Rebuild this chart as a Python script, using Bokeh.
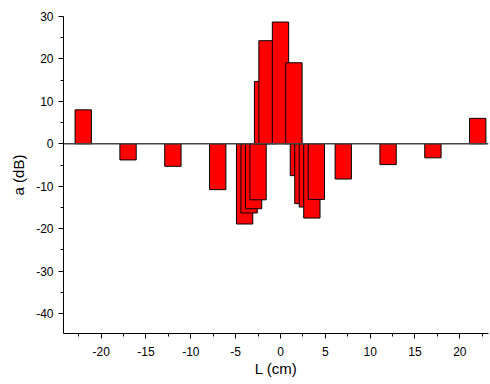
from bokeh.plotting import figure
from bokeh.models import Range1d, FixedTicker, Span, ColumnDataSource
from bokeh.embed import file_html
from bokeh.resources import INLINE

# data
L_cm = [-22, -17, -12, -7, -4, -3.5, -3, -2.5, -2, -1.5, 0, 1.5, 2, 2.5, 3, 3.5, 4, 7, 12, 17, 22]
a_dB = [8.0, -3.8, -5.3, -10.8, -18.9, -16.3, -15.3, -13.2, 14.7, 24.3, 28.7, 19.1,
        -7.5, -14.1, -14.9, -17.5, -13.1, -8.3, -4.9, -3.3, 6.0]
x_ticks = [-20, -15, -10, -5, 0, 5, 10, 15, 20]
y_ticks = [-40, -30, -20, -10, 0, 10, 20, 30]
bar_width = 1.82

src = ColumnDataSource(dict(x=L_cm, top=a_dB, bottom=[0] * len(a_dB)))

p = figure(width=490, height=384, output_backend="svg", toolbar_location=None,
           x_range=Range1d(-24.2, 23.2), y_range=Range1d(-44.7, 30))
p.min_border_left = 63
p.min_border_right = 2
p.min_border_top = 16
p.min_border_bottom = 51
p.outline_line_color = None
p.grid.visible = False
p.background_fill_color = "white"
p.border_fill_color = "white"

p.vbar(x="x", top="top", bottom="bottom", width=bar_width, source=src,
       fill_color="#FF0000", line_color="#000000", line_width=1)

p.add_layout(Span(location=0, dimension="width", line_color="#444444", line_width=1.5))

font = "Liberation Sans"
p.xaxis.ticker = FixedTicker(ticks=x_ticks, minor_ticks=[v + 2.5 for v in range(-25, 25, 5)])
p.yaxis.ticker = FixedTicker(ticks=y_ticks, minor_ticks=[v + 5 for v in range(-50, 30, 10)])
p.xaxis.major_label_overrides = {t: str(t) for t in x_ticks}
p.yaxis.major_label_overrides = {t: str(t) for t in y_ticks}
p.xaxis.axis_label = "L (cm)"
p.yaxis.axis_label = "a (dB)"
for ax in (p.xaxis[0], p.yaxis[0]):
    ax.axis_line_color = "#000000"
    ax.axis_line_width = 1
    ax.major_tick_line_color = "#000000"
    ax.minor_tick_line_color = "#000000"
    ax.major_tick_out = 5
    ax.major_tick_in = 0
    ax.minor_tick_out = 3
    ax.minor_tick_in = 0
    ax.major_label_text_font = font
    ax.major_label_text_font_size = "12px"
    ax.major_label_text_color = "#000000"
    ax.axis_label_text_font = font
    ax.axis_label_text_font_size = "15px"
    ax.axis_label_text_font_style = "normal"
    ax.axis_label_text_color = "#000000"
p.xaxis.major_label_standoff = 8
p.xaxis.axis_label_standoff = 1
p.yaxis.major_label_standoff = 5
p.yaxis.axis_label_standoff = 6

open("out.html", "w").write(file_html(p, INLINE))
